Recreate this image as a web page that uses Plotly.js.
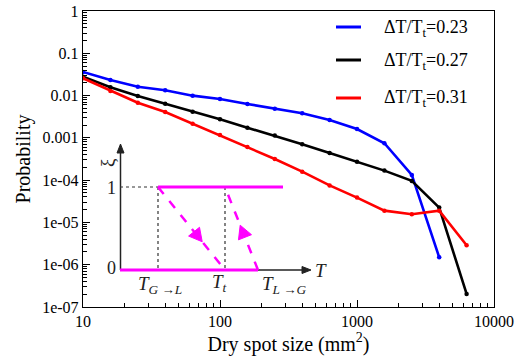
<!DOCTYPE html>
<html>
<head>
<meta charset="utf-8">
<script src="https://cdn.plot.ly/plotly-3.0.1.min.js"></script>
<style>html,body{margin:0;padding:0;background:#fff;}#chart{width:530px;height:356px;}</style>
</head>
<body>
<div id="chart"></div>
<script>
// ---- data ----
const drySpotSize = [10, 15.85, 25.12, 39.81, 63.10, 100, 158.5, 251.2, 398.1, 631.0, 1000, 1585, 2512, 3981, 6310];
const probBlue  = [0.0361, 0.0234, 0.0162, 0.0133, 0.00995, 0.00831, 0.00633, 0.0049, 0.00382, 0.00265, 0.00162, 0.000745, 0.000133, 1.5e-6];
const probBlack = [0.028, 0.0157, 0.0098, 0.00644, 0.00416, 0.00275, 0.00174, 0.00113, 0.000706, 0.00044, 0.000274, 0.000168, 9.6e-5, 2.24e-5, 2.04e-7];
const probRed   = [0.0256, 0.0129, 0.00679, 0.00409, 0.00217, 0.00117, 0.00061, 0.000317, 0.000159, 7.5e-5, 3.86e-5, 1.9e-5, 1.56e-5, 1.9e-5, 2.89e-6];
const seriesNames = ['ΔT/T<sub>t</sub>=0.23', 'ΔT/T<sub>t</sub>=0.27', 'ΔT/T<sub>t</sub>=0.31'];
const seriesColors = ['#0000ff', '#000000', '#ff0000'];
const yTickVals = [1, 0.1, 0.01, 0.001, 1e-4, 1e-5, 1e-6, 1e-7];
const yTickText = ['1', '0.1', '0.01', '0.001', '1e-04', '1e-05', '1e-06', '1e-07'];
const xTickVals = [10, 100, 1000, 10000];
const xTickText = ['10', '100', '1000', '10000'];

// minor tick positions (2..9 within each decade)
function minorTicks(lo, hi) {
  const out = [];
  for (let e = lo; e < hi; e++) for (let m = 2; m <= 9; m++) out.push(m * Math.pow(10, e));
  return out;
}

// ---- layout helpers (pixel -> paper) ----
const W = 530, H = 356;
const L = 83, R = 494, T = 11, B = 307;
const px = X => (X - L) / (R - L);
const py = Y => (B - Y) / (B - T);
const FONT = 'Liberation Serif, Times New Roman, serif';
const MAG = '#ff00ff';
const AXC = '#222';

const ys = [probBlue, probBlack, probRed];
const traces = ys.map((y, i) => ({
  x: drySpotSize.slice(0, y.length), y: y, type: 'scatter', mode: 'lines+markers',
  name: seriesNames[i], showlegend: false,
  line: {color: seriesColors[i], width: 2.6},
  marker: {color: seriesColors[i], size: 4.5}
}));

function seg(x0, y0, x1, y1, color, width, dash) {
  return {type: 'line', xref: 'paper', yref: 'paper', x0: px(x0), y0: py(y0), x1: px(x1), y1: py(y1),
          line: {color: color, width: width, dash: dash || 'solid'}};
}
function tri(x0, y0, x1, y1, tTip, len, hw, color) {
  const dx = x1 - x0, dy = y1 - y0, d = Math.hypot(dx, dy), ux = dx / d, uy = dy / d;
  const tx = x0 + dx * tTip, ty = y0 + dy * tTip;
  const bx = tx - ux * len, by = ty - uy * len;
  const nx = -uy, ny = ux;
  const p = [[tx, ty], [bx + nx * hw, by + ny * hw], [bx - nx * hw, by - ny * hw]];
  return {type: 'path', xref: 'paper', yref: 'paper', fillcolor: color, line: {color: color, width: 1},
          path: 'M' + p.map(q => px(q[0]) + ',' + py(q[1])).join(' L') + ' Z'};
}

const shapes = [
  // inset axes with arrowheads
  seg(120.5, 150, 120.5, 270, AXC, 1.5),
  tri(120.5, 270, 120.5, 144, 1, 9, 3.5, AXC),
  seg(120, 270, 304, 270, AXC, 1.5),
  tri(120, 270, 311, 270, 1, 9, 3.5, AXC),
  // dotted guides
  seg(120, 187, 158, 187, '#333', 1.2, 'dot'),
  seg(158, 187, 158, 270, '#333', 1.2, 'dot'),
  seg(225, 187, 225, 270, '#333', 1.2, 'dot'),
  // hysteresis branches
  seg(158, 187, 283, 187, MAG, 3),
  seg(120, 270, 258, 270, MAG, 3),
  seg(158, 187, 225, 270, MAG, 2.5, 'dash'),
  seg(258, 270, 225, 187, MAG, 2.5, 'dash'),
  tri(158, 187, 225, 270, 0.66, 13, 7, MAG),
  tri(258, 270, 225, 187, 0.54, 13, 7, MAG)
];
const legendY = [27, 60, 98];
seriesColors.forEach((c, i) => shapes.push(seg(336, legendY[i], 361, legendY[i], c, 3)));

const ann = [];
const insetText = [
  ['ξ', 107, 163, 'center', 19, -90],
  ['1', 111, 188, 'center', 18, 0],
  ['0', 111, 268, 'center', 18, 0],
  ['<i>T</i>', 321, 270, 'center', 19, 0],
  ['<i>T</i><sub><i>G</i> →<i>L</i></sub>', 160, 285, 'center', 19, 0],
  ['<i>T</i><sub><i>t</i></sub>', 219, 283, 'center', 19, 0],
  ['<i>T</i><sub><i>L</i> →<i>G</i></sub>', 284, 285, 'center', 19, 0]
];
insetText.forEach(a => ann.push({xref: 'paper', yref: 'paper', x: px(a[1]), y: py(a[2]), text: a[0],
  xanchor: a[3], yanchor: 'middle', showarrow: false, textangle: a[5],
  font: {family: FONT, size: a[4], color: '#222'}}));
seriesNames.forEach((n, i) => ann.push({xref: 'paper', yref: 'paper', x: px(382), y: py(legendY[i] + 1), text: n,
  xanchor: 'left', yanchor: 'middle', showarrow: false, font: {family: FONT, size: 18, color: '#000'}}));

const layout = {
  width: W, height: H,
  margin: {l: L, r: W - R, t: T, b: H - B},
  paper_bgcolor: '#fff', plot_bgcolor: '#fff',
  font: {family: FONT, size: 16, color: '#000'},
  showlegend: false,
  xaxis: {
    type: 'log', range: [1, 4], tickvals: xTickVals, ticktext: xTickText,
    ticks: 'inside', ticklen: 7, tickwidth: 1, tickcolor: '#000',
    showline: true, linecolor: '#000', linewidth: 1.2, mirror: true,
    showgrid: false, zeroline: false,
    minor: {ticks: 'inside', ticklen: 4, tickcolor: '#000', showgrid: false, tickmode: 'array', tickvals: minorTicks(1, 4)},
    tickfont: {family: FONT, size: 16},
    title: {text: 'Dry spot size (mm<sup>2</sup>)', font: {family: FONT, size: 20}, standoff: 2}
  },
  yaxis: {
    type: 'log', range: [-7, 0], tickvals: yTickVals, ticktext: yTickText,
    ticks: 'inside', ticklen: 7, tickwidth: 1, tickcolor: '#000',
    showline: true, linecolor: '#000', linewidth: 1.2, mirror: true,
    showgrid: false, zeroline: false,
    minor: {ticks: 'inside', ticklen: 4, tickcolor: '#000', showgrid: false, tickmode: 'array', tickvals: minorTicks(-7, 0)},
    tickfont: {family: FONT, size: 16},
    title: {text: 'Probability', font: {family: FONT, size: 20}, standoff: 6}
  },
  shapes: shapes,
  annotations: ann
};

Plotly.newPlot('chart', traces, layout, {displayModeBar: false, staticPlot: true});
</script>
</body>
</html>
